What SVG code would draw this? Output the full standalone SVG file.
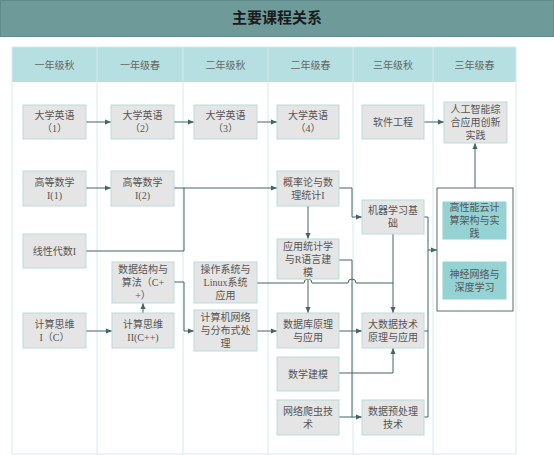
<svg xmlns="http://www.w3.org/2000/svg" width="554" height="455" viewBox="0 0 554 455">
<defs>
<marker id="arr" markerUnits="userSpaceOnUse" markerWidth="6" markerHeight="6" refX="6" refY="3" orient="auto">
<path d="M0,0.5 L6,3 L0,5.5 z" fill="#456565"/>
</marker>
<style>
.title{font-family:"Liberation Serif","Noto Sans CJK SC",serif;font-size:15px;font-weight:bold;fill:#1b1b1b;text-anchor:middle;dominant-baseline:central}
.hd{font-family:"Liberation Serif","Noto Sans CJK SC",serif;font-size:10px;fill:#666;text-anchor:middle;dominant-baseline:central}
.grid{stroke:#d6eaea;stroke-width:1;fill:none}
.node rect{fill:#e5e5e5;stroke:#b8dcdc;stroke-width:1}
.node.teal rect{fill:#95d2d3;stroke:#95d2d3}
text.t{font-family:"Liberation Serif","Noto Sans CJK SC",serif;font-size:10px;fill:#555;text-anchor:middle;dominant-baseline:central}
.c{stroke:#456565;stroke-width:1;fill:none}
.ca{stroke:#456565;stroke-width:1;fill:none;marker-end:url(#arr)}
</style>
</defs>
<rect x="0" y="0" width="554" height="455" fill="#ffffff"/>
<g id="titlebar">
<rect x="0.5" y="0.5" width="553" height="36" fill="#6e9b9a" stroke="#5f8c8b"/>
<text class="title" x="277" y="18">主要课程关系</text>
</g>
<g id="table">
<rect x="12" y="47" width="504" height="35" fill="#b5dfe0"/>
<path class="grid" d="M12,47 V454 M97,47 V454 M183,47 V454 M268,47 V454 M353,47 V454 M433,47 V454 M516,47 V454 M12,454 H516 M12,47 H516"/>
<text class="hd" x="54.5" y="65">一年级秋</text>
<text class="hd" x="140" y="65">一年级春</text>
<text class="hd" x="225.5" y="65">二年级秋</text>
<text class="hd" x="310.5" y="65">二年级春</text>
<text class="hd" x="393" y="65">三年级秋</text>
<text class="hd" x="474.5" y="65">三年级春</text>
</g>
<g id="connectors">
<path class="ca" d="M86,122 H111"/>
<path class="ca" d="M174,122 H194"/>
<path class="ca" d="M257,122 H277"/>
<path class="ca" d="M424,122 H444"/>
<path class="ca" d="M86,188 H111"/>
<path class="ca" d="M174,188 H277"/>
<path class="c" d="M86,251 H184 V188"/>
<path class="ca" d="M143,313 V303"/>
<path class="ca" d="M86,331 H112"/>
<path class="ca" d="M174,282 H184 V331 H194"/>
<path class="ca" d="M257,331 H277"/>
<path class="ca" d="M308,206 V239"/>
<path class="ca" d="M339,188 H352 V217 H362"/>
<path class="c" d="M339,260 H352 V417"/>
<path class="c" d="M257,283 H304 A4,4 0 0 1 312,283 H348 A4,4 0 0 1 356,283 H393"/>
<path class="ca" d="M393,234 V313"/>
<path class="ca" d="M308,279 V313"/>
<path class="ca" d="M339,331 H362"/>
<path class="ca" d="M339,373 H393 V348"/>
<path class="ca" d="M339,417 H362"/>
<path class="c" d="M424,217 H428 V417 H424 M424,331 H428"/>
<path class="ca" d="M428,250 H437"/>
<path class="ca" d="M475,188 V143"/>
</g>
<g id="eng1" class="node"><rect x="23" y="105" width="63" height="34"/><text class="t" x="54.5" y="115.5">大学英语</text><text class="t" x="54.5" y="128.5">（1）</text></g>
<g id="eng2" class="node"><rect x="111" y="105" width="63" height="34"/><text class="t" x="142.5" y="115.5">大学英语</text><text class="t" x="142.5" y="128.5">（2）</text></g>
<g id="eng3" class="node"><rect x="194" y="105" width="63" height="34"/><text class="t" x="225.5" y="115.5">大学英语</text><text class="t" x="225.5" y="128.5">（3）</text></g>
<g id="eng4" class="node"><rect x="277" y="105" width="62" height="34"/><text class="t" x="308" y="115.5">大学英语</text><text class="t" x="308" y="128.5">（4）</text></g>
<g id="se" class="node"><rect x="362" y="105" width="62" height="34"/><text class="t" x="393" y="122">软件工程</text></g>
<g id="ai" class="node"><rect x="444" y="102" width="63" height="41"/><text class="t" x="475.5" y="109.5">人工智能综</text><text class="t" x="475.5" y="122.5">合应用创新</text><text class="t" x="475.5" y="135.5">实践</text></g>
<g id="math1" class="node"><rect x="23" y="171" width="63" height="35"/><text class="t" x="54.5" y="182">高等数学</text><text class="t" x="54.5" y="195">I(1)</text></g>
<g id="math2" class="node"><rect x="111" y="171" width="63" height="35"/><text class="t" x="142.5" y="182">高等数学</text><text class="t" x="142.5" y="195">I(2)</text></g>
<g id="prob" class="node"><rect x="277" y="171" width="62" height="35"/><text class="t" x="308" y="182">概率论与数</text><text class="t" x="308" y="195">理统计I</text></g>
<g id="linalg" class="node"><rect x="23" y="234" width="63" height="34"/><text class="t" x="54.5" y="251">线性代数I</text></g>
<g id="ds" class="node"><rect x="112" y="262" width="62" height="41"/><text class="t" x="143" y="269.5">数据结构与</text><text class="t" x="143" y="282.5">算法（C+</text><text class="t" x="143" y="295.5">+）</text></g>
<g id="os" class="node"><rect x="194" y="262" width="63" height="41"/><text class="t" x="225.5" y="269.5">操作系统与</text><text class="t" x="225.5" y="282.5">Linux系统</text><text class="t" x="225.5" y="295.5">应用</text></g>
<g id="ml" class="node"><rect x="362" y="200" width="62" height="34"/><text class="t" x="393" y="210.5">机器学习基</text><text class="t" x="393" y="223.5">础</text></g>
<g id="stat" class="node"><rect x="277" y="239" width="62" height="40"/><text class="t" x="308" y="246">应用统计学</text><text class="t" x="308" y="259">与R语言建</text><text class="t" x="308" y="272">模</text></g>
<g id="ct1" class="node"><rect x="23" y="313" width="63" height="35"/><text class="t" x="54.5" y="324">计算思维</text><text class="t" x="54.5" y="337">I（C）</text></g>
<g id="ct2" class="node"><rect x="112" y="313" width="62" height="35"/><text class="t" x="143" y="324">计算思维</text><text class="t" x="143" y="337">II(C++)</text></g>
<g id="net" class="node"><rect x="194" y="310" width="63" height="41"/><text class="t" x="225.5" y="317.5">计算机网络</text><text class="t" x="225.5" y="330.5">与分布式处</text><text class="t" x="225.5" y="343.5">理</text></g>
<g id="db" class="node"><rect x="277" y="313" width="62" height="35"/><text class="t" x="308" y="324">数据库原理</text><text class="t" x="308" y="337">与应用</text></g>
<g id="bigdata" class="node"><rect x="362" y="313" width="62" height="35"/><text class="t" x="393" y="324">大数据技术</text><text class="t" x="393" y="337">原理与应用</text></g>
<g id="mm" class="node"><rect x="277" y="357" width="62" height="34"/><text class="t" x="308" y="374">数学建模</text></g>
<g id="crawl" class="node"><rect x="277" y="400" width="62" height="35"/><text class="t" x="308" y="411">网络爬虫技</text><text class="t" x="308" y="424">术</text></g>
<g id="prep" class="node"><rect x="362" y="400" width="62" height="35"/><text class="t" x="393" y="411">数据预处理</text><text class="t" x="393" y="424">技术</text></g>
<g id="groupbox"><rect x="437" y="188" width="76" height="123" fill="#ffffff" stroke="#5a6a6a" stroke-width="1"/></g>
<g id="hpc" class="node teal"><rect x="443" y="202" width="63" height="37"/><text class="t" x="474.5" y="207.5">高性能云计</text><text class="t" x="474.5" y="220.5">算架构与实</text><text class="t" x="474.5" y="233.5">践</text></g>
<g id="nn" class="node teal"><rect x="443" y="262" width="63" height="37"/><text class="t" x="474.5" y="274">神经网络与</text><text class="t" x="474.5" y="287">深度学习</text></g>
</svg>
